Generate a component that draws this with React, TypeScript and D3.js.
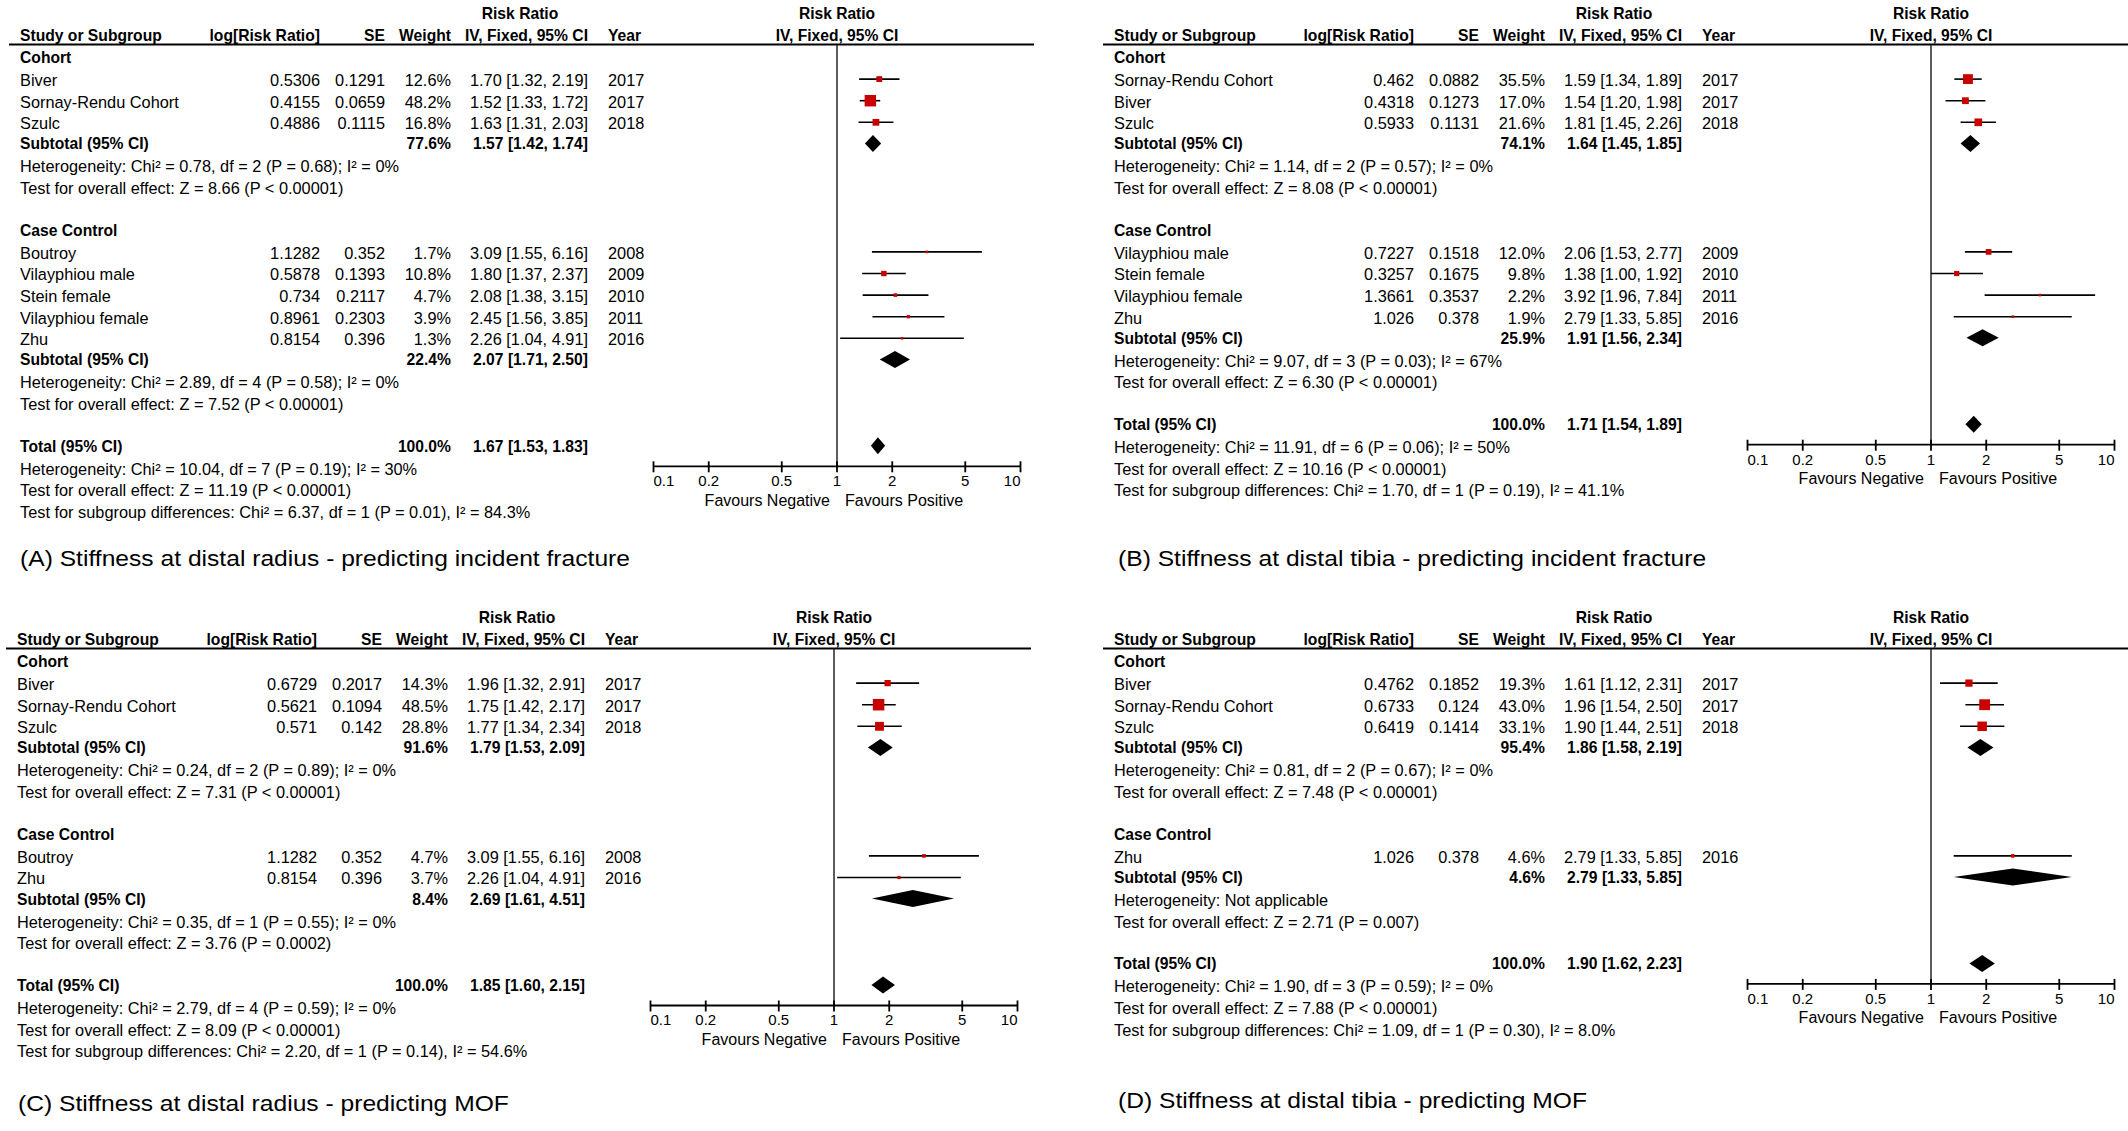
import * as d3 from "d3";

const FONT = "'Liberation Sans', Arial, Helvetica, sans-serif";

// shared
const subgroups = ["Cohort", "Case Control"];
const axisTicks = [0.1, 0.2, 0.5, 1, 2, 5, 10];
const captions = [
  "(A) Stiffness at distal radius - predicting incident fracture",
  "(B) Stiffness at distal tibia - predicting incident fracture",
  "(C) Stiffness at distal radius - predicting MOF",
  "(D) Stiffness at distal tibia - predicting MOF",
];

// ---- Panel A ----
const aStudies = ["Biver", "Sornay-Rendu Cohort", "Szulc", "Boutroy", "Vilayphiou male", "Stein female", "Vilayphiou female", "Zhu"];
const aGroup = [0, 0, 0, 1, 1, 1, 1, 1];
const aLogRR = [0.5306, 0.4155, 0.4886, 1.1282, 0.5878, 0.734, 0.8961, 0.8154];
const aSE = [0.1291, 0.0659, 0.1115, 0.352, 0.1393, 0.2117, 0.2303, 0.396];
const aWeight = [12.6, 48.2, 16.8, 1.7, 10.8, 4.7, 3.9, 1.3];
const aRR = [1.7, 1.52, 1.63, 3.09, 1.8, 2.08, 2.45, 2.26];
const aLo = [1.32, 1.33, 1.31, 1.55, 1.37, 1.38, 1.56, 1.04];
const aHi = [2.19, 1.72, 2.03, 6.16, 2.37, 3.15, 3.85, 4.91];
const aYear = [2017, 2017, 2018, 2008, 2009, 2010, 2011, 2016];
const aSubWeight = [77.6, 22.4];
const aSubRR = [1.57, 2.07];
const aSubLo = [1.42, 1.71];
const aSubHi = [1.74, 2.5];
const aSubHet = ["Heterogeneity: Chi² = 0.78, df = 2 (P = 0.68); I² = 0%", "Heterogeneity: Chi² = 2.89, df = 4 (P = 0.58); I² = 0%"];
const aSubTest = ["Test for overall effect: Z = 8.66 (P < 0.00001)", "Test for overall effect: Z = 7.52 (P < 0.00001)"];
const aTotal = [1.67, 1.53, 1.83];
const aTotalNotes = [
  "Heterogeneity: Chi² = 10.04, df = 7 (P = 0.19); I² = 30%",
  "Test for overall effect: Z = 11.19 (P < 0.00001)",
  "Test for subgroup differences: Chi² = 6.37, df = 1 (P = 0.01), I² = 84.3%",
];

// ---- Panel B ----
const bStudies = ["Sornay-Rendu Cohort", "Biver", "Szulc", "Vilayphiou male", "Stein female", "Vilayphiou female", "Zhu"];
const bGroup = [0, 0, 0, 1, 1, 1, 1];
const bLogRR = [0.462, 0.4318, 0.5933, 0.7227, 0.3257, 1.3661, 1.026];
const bSE = [0.0882, 0.1273, 0.1131, 0.1518, 0.1675, 0.3537, 0.378];
const bWeight = [35.5, 17.0, 21.6, 12.0, 9.8, 2.2, 1.9];
const bRR = [1.59, 1.54, 1.81, 2.06, 1.38, 3.92, 2.79];
const bLo = [1.34, 1.2, 1.45, 1.53, 1.0, 1.96, 1.33];
const bHi = [1.89, 1.98, 2.26, 2.77, 1.92, 7.84, 5.85];
const bYear = [2017, 2017, 2018, 2009, 2010, 2011, 2016];
const bSubWeight = [74.1, 25.9];
const bSubRR = [1.64, 1.91];
const bSubLo = [1.45, 1.56];
const bSubHi = [1.85, 2.34];
const bSubHet = ["Heterogeneity: Chi² = 1.14, df = 2 (P = 0.57); I² = 0%", "Heterogeneity: Chi² = 9.07, df = 3 (P = 0.03); I² = 67%"];
const bSubTest = ["Test for overall effect: Z = 8.08 (P < 0.00001)", "Test for overall effect: Z = 6.30 (P < 0.00001)"];
const bTotal = [1.71, 1.54, 1.89];
const bTotalNotes = [
  "Heterogeneity: Chi² = 11.91, df = 6 (P = 0.06); I² = 50%",
  "Test for overall effect: Z = 10.16 (P < 0.00001)",
  "Test for subgroup differences: Chi² = 1.70, df = 1 (P = 0.19), I² = 41.1%",
];

// ---- Panel C ----
const cStudies = ["Biver", "Sornay-Rendu Cohort", "Szulc", "Boutroy", "Zhu"];
const cGroup = [0, 0, 0, 1, 1];
const cLogRR = [0.6729, 0.5621, 0.571, 1.1282, 0.8154];
const cSE = [0.2017, 0.1094, 0.142, 0.352, 0.396];
const cWeight = [14.3, 48.5, 28.8, 4.7, 3.7];
const cRR = [1.96, 1.75, 1.77, 3.09, 2.26];
const cLo = [1.32, 1.42, 1.34, 1.55, 1.04];
const cHi = [2.91, 2.17, 2.34, 6.16, 4.91];
const cYear = [2017, 2017, 2018, 2008, 2016];
const cSubWeight = [91.6, 8.4];
const cSubRR = [1.79, 2.69];
const cSubLo = [1.53, 1.61];
const cSubHi = [2.09, 4.51];
const cSubHet = ["Heterogeneity: Chi² = 0.24, df = 2 (P = 0.89); I² = 0%", "Heterogeneity: Chi² = 0.35, df = 1 (P = 0.55); I² = 0%"];
const cSubTest = ["Test for overall effect: Z = 7.31 (P < 0.00001)", "Test for overall effect: Z = 3.76 (P = 0.0002)"];
const cTotal = [1.85, 1.6, 2.15];
const cTotalNotes = [
  "Heterogeneity: Chi² = 2.79, df = 4 (P = 0.59); I² = 0%",
  "Test for overall effect: Z = 8.09 (P < 0.00001)",
  "Test for subgroup differences: Chi² = 2.20, df = 1 (P = 0.14), I² = 54.6%",
];

// ---- Panel D ----
const dStudies = ["Biver", "Sornay-Rendu Cohort", "Szulc", "Zhu"];
const dGroup = [0, 0, 0, 1];
const dLogRR = [0.4762, 0.6733, 0.6419, 1.026];
const dSE = [0.1852, 0.124, 0.1414, 0.378];
const dWeight = [19.3, 43.0, 33.1, 4.6];
const dRR = [1.61, 1.96, 1.9, 2.79];
const dLo = [1.12, 1.54, 1.44, 1.33];
const dHi = [2.31, 2.5, 2.51, 5.85];
const dYear = [2017, 2017, 2018, 2016];
const dSubWeight = [95.4, 4.6];
const dSubRR = [1.86, 2.79];
const dSubLo = [1.58, 1.33];
const dSubHi = [2.19, 5.85];
const dSubHet = ["Heterogeneity: Chi² = 0.81, df = 2 (P = 0.67); I² = 0%", "Heterogeneity: Not applicable"];
const dSubTest = ["Test for overall effect: Z = 7.48 (P < 0.00001)", "Test for overall effect: Z = 2.71 (P = 0.007)"];
const dTotal = [1.9, 1.62, 2.23];
const dTotalNotes = [
  "Heterogeneity: Chi² = 1.90, df = 3 (P = 0.59); I² = 0%",
  "Test for overall effect: Z = 7.88 (P < 0.00001)",
  "Test for subgroup differences: Chi² = 1.09, df = 1 (P = 0.30), I² = 8.0%",
];

// panel table built from the arrays above
const panels = [
  { studies: aStudies, group: aGroup, logRR: aLogRR, se: aSE, weight: aWeight, rr: aRR, lo: aLo, hi: aHi, year: aYear, subW: aSubWeight, subRR: aSubRR, subLo: aSubLo, subHi: aSubHi, subHet: aSubHet, subTest: aSubTest, total: aTotal, notes: aTotalNotes },
  { studies: bStudies, group: bGroup, logRR: bLogRR, se: bSE, weight: bWeight, rr: bRR, lo: bLo, hi: bHi, year: bYear, subW: bSubWeight, subRR: bSubRR, subLo: bSubLo, subHi: bSubHi, subHet: bSubHet, subTest: bSubTest, total: bTotal, notes: bTotalNotes },
  { studies: cStudies, group: cGroup, logRR: cLogRR, se: cSE, weight: cWeight, rr: cRR, lo: cLo, hi: cHi, year: cYear, subW: cSubWeight, subRR: cSubRR, subLo: cSubLo, subHi: cSubHi, subHet: cSubHet, subTest: cSubTest, total: cTotal, notes: cTotalNotes },
  { studies: dStudies, group: dGroup, logRR: dLogRR, se: dSE, weight: dWeight, rr: dRR, lo: dLo, hi: dHi, year: dYear, subW: dSubWeight, subRR: dSubRR, subLo: dSubLo, subHi: dSubHi, subHet: dSubHet, subTest: dSubTest, total: dTotal, notes: dTotalNotes },
];

// layout
const panelPos = [
  { x: 0, y: 0, capX: 20, capY: 558 },
  { x: 1094, y: 0, capX: 1118, capY: 558 },
  { x: -3, y: 604, capX: 18, capY: 1103 },
  { x: 1094, y: 604, capX: 1118, capY: 1100 },
];
const COL = { study: 20, log: 320, se: 385, weight: 451, ci: 588, year: 608, rrHead: 520, ruleL: 9, ruleR: 1034 };
const ROW0 = 57;
const PITCH = 21.6;
const FS = 16.5;
const SX = 0.99; // normal table text
const SXB = 0.95; // bold table text

const fmtCI = (r: number, l: number, h: number) => `${r.toFixed(2)} [${l.toFixed(2)}, ${h.toFixed(2)}]`;

const T = ({ x, y, anchor = "start", bold = false, size = FS, sx, children }: any) => (
  <text
    transform={`translate(${x},${y}) scale(${sx ?? (bold ? SXB : SX)},1)`}
    dy="0.36em"
    textAnchor={anchor}
    fontFamily={FONT}
    fontSize={size}
    fontWeight={bold ? 700 : 400}
    fill="#000"
  >
    {children}
  </text>
);

const Panel = ({ p, pos, caption }: any) => {
  const x = d3.scaleLog().domain([0.1, 10]).range([653.5, 1020.5]);
  const x1 = x(1);
  const rowY = (i: number, bold: boolean) => ROW0 + i * PITCH + (bold ? 0 : 1.5);

  const els: any[] = [];
  const marks: any[] = [];
  let idx = 0;
  subgroups.forEach((g, gi) => {
    els.push(<T key={`g${gi}`} x={COL.study} y={rowY(idx, true)} bold>{g}</T>);
    idx++;
    p.studies.forEach((s: string, si: number) => {
      if (p.group[si] !== gi) return;
      const y = rowY(idx, false);
      els.push(
        <g key={`s${si}`}>
          <T x={COL.study} y={y}>{s}</T>
          <T x={COL.log} y={y} anchor="end">{String(p.logRR[si])}</T>
          <T x={COL.se} y={y} anchor="end">{String(p.se[si])}</T>
          <T x={COL.weight} y={y} anchor="end">{p.weight[si].toFixed(1) + "%"}</T>
          <T x={COL.ci} y={y} anchor="end">{fmtCI(p.rr[si], p.lo[si], p.hi[si])}</T>
          <T x={COL.year} y={y}>{String(p.year[si])}</T>
        </g>
      );
      const side = Math.max(2.6, 1.65 * Math.sqrt(p.weight[si]));
      const yc = ROW0 + idx * PITCH + 0.5;
      marks.push(
        <g key={`m${si}`}>
          <line x1={x(p.lo[si])} x2={x(p.hi[si])} y1={yc} y2={yc} stroke="#000" strokeWidth={1.6} />
          <rect x={x(p.rr[si]) - side / 2} y={yc - side / 2} width={side} height={side} fill="#c80000" />
        </g>
      );
      idx++;
    });
    const ys = rowY(idx, true);
    els.push(
      <g key={`st${gi}`}>
        <T x={COL.study} y={ys} bold>Subtotal (95% CI)</T>
        <T x={COL.weight} y={ys} anchor="end" bold>{p.subW[gi].toFixed(1) + "%"}</T>
        <T x={COL.ci} y={ys} anchor="end" bold>{fmtCI(p.subRR[gi], p.subLo[gi], p.subHi[gi])}</T>
      </g>
    );
    marks.push(
      <polygon
        key={`d${gi}`}
        points={`${x(p.subLo[gi])},${ys} ${x(p.subRR[gi])},${ys - 8.5} ${x(p.subHi[gi])},${ys} ${x(p.subRR[gi])},${ys + 8.5}`}
        fill="#000"
      />
    );
    idx++;
    els.push(<T key={`h${gi}`} x={COL.study} y={rowY(idx, false)}>{p.subHet[gi]}</T>);
    idx++;
    els.push(<T key={`t${gi}`} x={COL.study} y={rowY(idx, false)}>{p.subTest[gi]}</T>);
    idx++;
    idx++; // blank
  });

  const ty = rowY(idx, true);
  const [tr, tl, th] = p.total;
  els.push(
    <g key="tot">
      <T x={COL.study} y={ty} bold>Total (95% CI)</T>
      <T x={COL.weight} y={ty} anchor="end" bold>100.0%</T>
      <T x={COL.ci} y={ty} anchor="end" bold>{fmtCI(tr, tl, th)}</T>
    </g>
  );
  marks.push(
    <polygon key="dt" points={`${x(tl)},${ty} ${x(tr)},${ty - 8.5} ${x(th)},${ty} ${x(tr)},${ty + 8.5}`} fill="#000" />
  );
  p.notes.forEach((n: string, ni: number) => {
    els.push(<T key={`n${ni}`} x={COL.study} y={rowY(idx + 1 + ni, false)}>{n}</T>);
  });

  const axisY = ty + 20.5;

  return (
    <g transform={`translate(${pos.x},${pos.y})`}>
      {/* headers */}
      <T x={COL.rrHead} y={13} anchor="middle" bold>Risk Ratio</T>
      <T x={COL.study} y={35} bold>Study or Subgroup</T>
      <T x={COL.log} y={35} anchor="end" bold>log[Risk Ratio]</T>
      <T x={COL.se} y={35} anchor="end" bold>SE</T>
      <T x={COL.weight} y={35} anchor="end" bold>Weight</T>
      <T x={COL.ci} y={35} anchor="end" bold>IV, Fixed, 95% CI</T>
      <T x={COL.year} y={35} bold>Year</T>
      <T x={x1} y={13} anchor="middle" bold size={15.6} sx={1}>Risk Ratio</T>
      <T x={x1} y={35} anchor="middle" bold size={15.6} sx={1}>IV, Fixed, 95% CI</T>
      <line x1={COL.ruleL} x2={COL.ruleR} y1={44.5} y2={44.5} stroke="#000" strokeWidth={2} />

      {els}

      {/* forest plot */}
      <line x1={x1} x2={x1} y1={45} y2={axisY} stroke="#333" strokeWidth={1.6} />
      {marks}
      <line x1={x(0.1)} x2={x(10)} y1={axisY} y2={axisY} stroke="#000" strokeWidth={1.8} />
      {axisTicks.map((t, i) => (
        <g key={`tk${i}`}>
          <line x1={x(t)} x2={x(t)} y1={axisY - 5} y2={axisY + 6} stroke="#000" strokeWidth={1.8} />
          <T
            x={x(t)}
            y={axisY + 14.5}
            anchor={i === 0 ? "start" : i === axisTicks.length - 1 ? "end" : "middle"}
            size={15}
            sx={1}
          >
            {String(t)}
          </T>
        </g>
      ))}
      <T x={x1 - 7} y={axisY + 33.5} anchor="end" size={16} sx={1}>Favours Negative</T>
      <T x={x1 + 8} y={axisY + 33.5} size={16} sx={1}>Favours Positive</T>

      {/* caption */}
      <T x={pos.capX - pos.x} y={pos.capY - pos.y} size={22} sx={1.12}>{caption}</T>
    </g>
  );
};

export default function App() {
  return (
    <svg
      width={2128}
      height={1131}
      viewBox="0 0 2128 1131"
      style={{ position: "absolute", left: 0, top: 0, display: "block", background: "#fff" }}
    >
      <rect width={2128} height={1131} fill="#fff" />
      {panels.map((p, i) => (
        <Panel key={i} p={p} pos={panelPos[i]} caption={captions[i]} />
      ))}
    </svg>
  );
}
